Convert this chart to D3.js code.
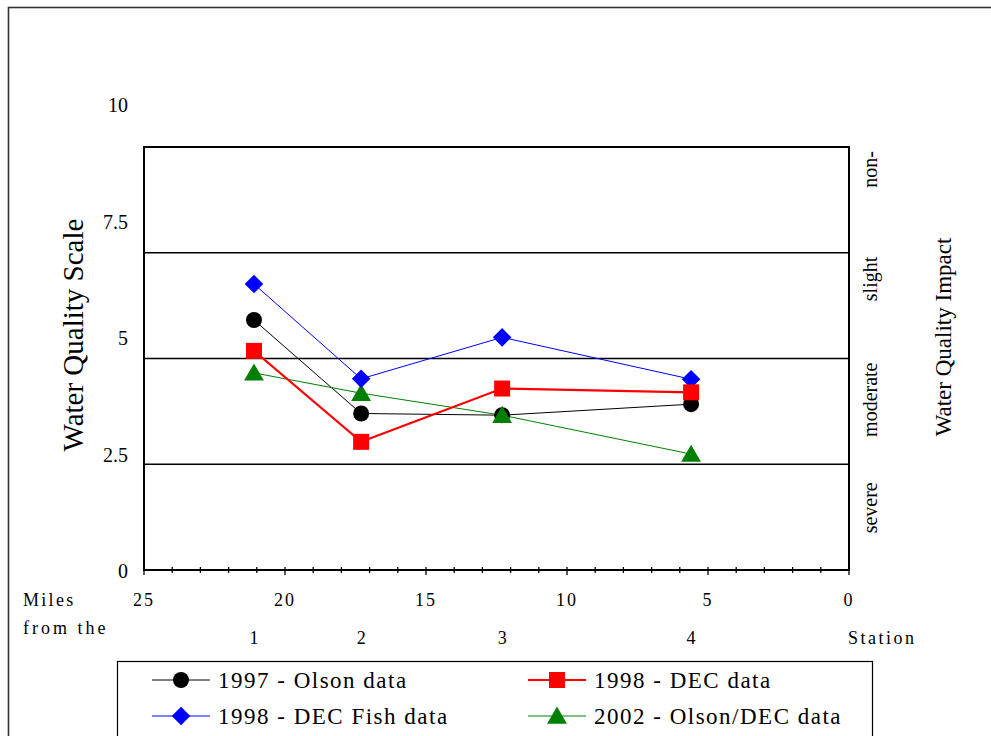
<!DOCTYPE html>
<html>
<head>
<meta charset="utf-8">
<script src="https://cdn.jsdelivr.net/npm/d3@7"></script>
<style>
  html, body { margin: 0; padding: 0; background: #fff; }
  svg { display: block; }
</style>
</head>
<body>
<svg id="chart" width="991" height="736" font-family="'Liberation Serif', 'DejaVu Serif', 'Times New Roman', Times, serif"></svg>
<script>
// ---------- data ----------
const stations = ["1", "2", "3", "4"];
const stationMiles = [21.1, 17.3, 12.3, 5.6];
const olson1997 = [5.91, 3.70, 3.66, 3.92];
const dec1998 = [5.18, 3.03, 4.29, 4.20];
const decFish1998 = [6.76, 4.52, 5.50, 4.51];
const olsonDec2002 = [4.66, 4.18, 3.66, 2.74];
const seriesNames = ["1997 - Olson data", "1998 - DEC data", "1998 - DEC Fish data", "2002 - Olson/DEC data"];
const yTickLabels = [0, 2.5, 5, 7.5, 10];
const xTickLabels = [25, 20, 15, 10, 5, 0];
const impactBreaks = [2.5, 5, 7.5];
const impactLabels = ["severe", "moderate", "slight", "non-"];

// ---------- layout ----------
const svg = d3.select("#chart");
const L = 144, R = 849, T = 147, B = 570;
const x = d3.scaleLinear().domain([25, 0]).range([L, R]);
const y = d3.scaleLinear().domain([0, 10]).range([B, T]);
const yLab = d3.scaleLinear().domain([0, 10]).range([571, 105]);

// outer border
svg.append("rect").attr("x", 8.5).attr("y", 7.5).attr("width", 1000).attr("height", 760)
  .attr("fill", "none").attr("stroke", "#333").attr("stroke-width", 1.6);

// impact lines
svg.append("g").selectAll("line").data(impactBreaks).join("line")
  .attr("x1", L).attr("x2", R).attr("y1", d => y(d)).attr("y2", d => y(d))
  .attr("stroke", "#000").attr("stroke-width", 1.3);

// plot frame
svg.append("rect").attr("x", L).attr("y", T).attr("width", R - L).attr("height", B - T)
  .attr("fill", "none").attr("stroke", "#000").attr("stroke-width", 2);

// x axis ticks (minor every mile, crossing axis)
const minor = d3.range(0, 26);
svg.append("g").selectAll("line").data(minor).join("line")
  .attr("x1", d => x(d)).attr("x2", d => x(d))
  .attr("y1", B - 3).attr("y2", d => d % 5 === 0 ? B + 5 : B + 3)
  .attr("stroke", "#000").attr("stroke-width", 1.3);

// x tick labels
svg.append("g").selectAll("text").data(xTickLabels).join("text")
  .attr("x", d => x(d)).attr("y", 606)
  .attr("text-anchor", "middle").attr("font-size", 18).attr("letter-spacing", 2)
  .text(d => d);

// y tick labels
svg.append("g").selectAll("text").data(yTickLabels).join("text")
  .attr("x", 128).attr("y", d => yLab(d) + 7)
  .attr("text-anchor", "end").attr("font-size", 20)
  .text(d => d);

// station labels
svg.append("g").selectAll("text").data(stations).join("text")
  .attr("x", (d, i) => x(stationMiles[i])).attr("y", 644)
  .attr("text-anchor", "middle").attr("font-size", 18)
  .text(d => d);

svg.append("text").attr("x", 848).attr("y", 644).attr("font-size", 18).attr("letter-spacing", 2.5).text("Station");
svg.append("text").attr("x", 23).attr("y", 606).attr("font-size", 18).attr("letter-spacing", 2.3).text("Miles");
svg.append("text").attr("x", 23).attr("y", 634).attr("font-size", 18).attr("letter-spacing", 3).text("from the");

// axis titles
svg.append("text").attr("transform", "translate(83,335) rotate(-90)")
  .attr("text-anchor", "middle").attr("font-size", 29).text("Water Quality Scale");
svg.append("text").attr("transform", "translate(951,337) rotate(-90)")
  .attr("text-anchor", "middle").attr("font-size", 23).text("Water Quality Impact");

// impact labels, top-aligned just under each band's upper boundary
const bandBounds = [0, ...impactBreaks, 10];
svg.append("g").selectAll("text").data(impactLabels).join("text")
  .attr("transform", (d, i) => `translate(877,${y(bandBounds[i + 1]) + (i === 0 ? 18 : 4)}) rotate(-90)`)
  .attr("text-anchor", "end").attr("font-size", 20)
  .text(d => d);

// ---------- series ----------
const sym = {
  circle: d3.symbol().type(d3.symbolCircle).size(200),
  square: d3.symbol().type(d3.symbolSquare).size(256),
  diamond: d3.symbol().type(d3.symbolDiamond2).size(220),
  triangle: d3.symbol().type(d3.symbolTriangle).size(170)
};
const series = [
  { name: seriesNames[0], values: olson1997, color: "#000", width: 1, shape: "circle" },
  { name: seriesNames[1], values: dec1998, color: "#ff0000", width: 2.2, shape: "square" },
  { name: seriesNames[2], values: decFish1998, color: "#0000ff", width: 1, shape: "diamond" },
  { name: seriesNames[3], values: olsonDec2002, color: "#008000", width: 1, shape: "triangle" }
];
const drawOrder = [0, 3, 2, 1]; // black, green, blue, red
const line = d3.line().x(d => x(d[0])).y(d => y(d[1]));

drawOrder.forEach(si => {
  const s = series[si];
  const pts = s.values.map((v, i) => [stationMiles[i], v]);
  svg.append("path").attr("d", line(pts)).attr("fill", "none")
    .attr("stroke", s.color).attr("stroke-width", s.width);
});
drawOrder.forEach(si => {
  const s = series[si];
  const pts = s.values.map((v, i) => [stationMiles[i], v]);
  svg.append("g").selectAll("path").data(pts).join("path")
    .attr("transform", d => `translate(${x(d[0])},${y(d[1]) + (s.shape === "triangle" ? 2 : 0)})`)
    .attr("d", sym[s.shape]()).attr("fill", s.color);
});

// ---------- legend ----------
svg.append("rect").attr("x", 117.5).attr("y", 661.5).attr("width", 755).attr("height", 120)
  .attr("fill", "#fff").attr("stroke", "#000").attr("stroke-width", 1.2);
const legPos = [[152, 680], [528, 680], [152, 716], [528, 716]];
series.forEach((s, i) => {
  const [lx, ly] = legPos[i];
  const g = svg.append("g").attr("transform", `translate(${lx},${ly})`);
  g.append("line").attr("x1", 0).attr("x2", 58).attr("y1", 0).attr("y2", 0)
    .attr("stroke", s.color).attr("stroke-width", s.width);
  g.append("path").attr("transform", `translate(29,${s.shape === "triangle" ? 2 : 0})`)
    .attr("d", sym[s.shape]()).attr("fill", s.color);
  g.append("text").attr("x", 66).attr("y", 8).attr("font-size", 23).attr("letter-spacing", 1.5).text(s.name);
});
</script>
</body>
</html>
